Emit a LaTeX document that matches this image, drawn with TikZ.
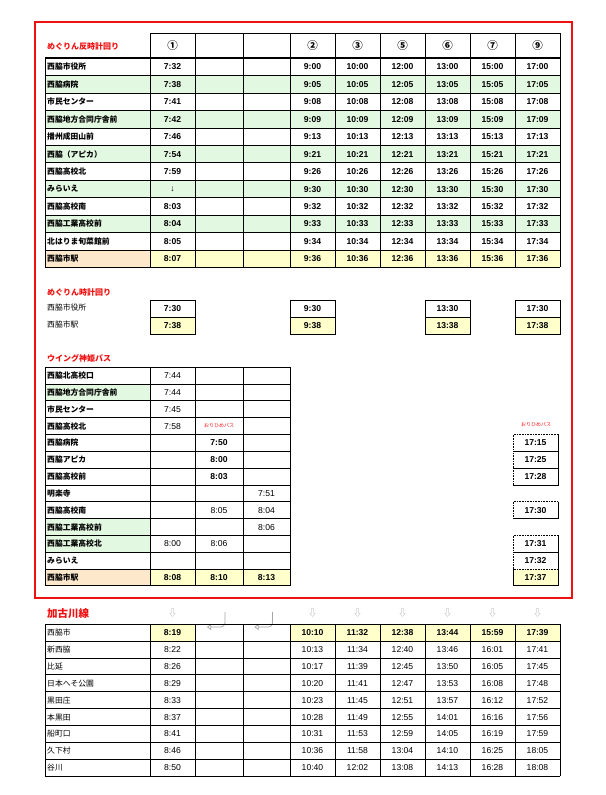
\documentclass[tikz,border=0pt]{standalone}
\usepackage{fontspec}
\usetikzlibrary{arrows.meta}
\setmainfont{Noto Sans CJK JP}
\newfontfamily\tm{Liberation Sans}
\begin{document}
\definecolor{gr}{HTML}{E3F8E1}
\definecolor{pe}{HTML}{FDE8CC}
\definecolor{ye}{HTML}{FFFFCC}
\definecolor{rd}{HTML}{F01010}
\begin{tikzpicture}[x=1pt,y=-1pt,
  lab/.style={anchor=west,inner sep=0pt,font=\fontsize{7.8}{8}\selectfont\bfseries},
  labn/.style={anchor=west,inner sep=0pt,font=\fontsize{7.8}{8}\selectfont},
  tb/.style={inner sep=0pt,font=\tm\fontsize{8.6}{9}\selectfont\bfseries},
  tn/.style={inner sep=0pt,font=\tm\fontsize{8.6}{9}\selectfont},
  ttl/.style={anchor=west,inner sep=0pt,text=rd,font=\fontsize{8}{9}\selectfont\bfseries},
  ori/.style={inner sep=0pt,text=rd,font=\fontsize{5}{6}\selectfont},
  grid/.style={line width=0.6pt}]
\useasboundingbox (0,0) rectangle (605,795);
\fill[white] (0,0) rectangle (605,795);
\draw[rd,line width=2.5pt] (35,22) rectangle (572,598);
% ===== top table
\node[ttl] (t1) at (47,46) {めぐりん反時計回り};
\foreach [count=\i] \lab/\a/\b/\c/\d/\e/\f/\g in {
西脇市役所/7:32/9:00/10:00/12:00/13:00/15:00/17:00,
西脇病院/7:38/9:05/10:05/12:05/13:05/15:05/17:05,
市民センター/7:41/9:08/10:08/12:08/13:08/15:08/17:08,
西脇地方合同庁舎前/7:42/9:09/10:09/12:09/13:09/15:09/17:09,
播州成田山前/7:46/9:13/10:13/12:13/13:13/15:13/17:13,
西脇（アピカ）/7:54/9:21/10:21/12:21/13:21/15:21/17:21,
西脇高校北/7:59/9:26/10:26/12:26/13:26/15:26/17:26,
みらいえ/↓/9:30/10:30/12:30/13:30/15:30/17:30,
西脇高校南/8:03/9:32/10:32/12:32/13:32/15:32/17:32,
西脇工業高校前/8:04/9:33/10:33/12:33/13:33/15:33/17:33,
北はりま旬菜館前/8:05/9:34/10:34/12:34/13:34/15:34/17:34,
西脇市駅/8:07/9:36/10:36/12:36/13:36/15:36/17:36}{
  \pgfmathsetmacro\yt{58+17.45*(\i-1)}
  \pgfmathsetmacro\yb{\yt+17.45}
  \pgfmathsetmacro\ym{\yt+8.9}
  \ifnum\i=12
    \fill[pe] (45,\yt) rectangle (150,\yb);
    \fill[ye] (150,\yt) rectangle (560,\yb);
  \else\ifodd\i\else
    \fill[gr] (45,\yt) rectangle (560,\yb);
  \fi\fi
  \node[lab] (tl\i) at (47,\ym) {\lab};
  \node[tb] (ta\i) at (172.5,\ym) {\a};
  \node[tb] (tb\i) at (312.5,\ym) {\b};
  \node[tb] (tc\i) at (357.5,\ym) {\c};
  \node[tb] (td\i) at (402.5,\ym) {\d};
  \node[tb] (te\i) at (447.5,\ym) {\e};
  \node[tb] (tf\i) at (492.5,\ym) {\f};
  \node[tb] (tg\i) at (537.5,\ym) {\g};
}
\foreach \i in {1,...,12} \draw[grid] (45,{58+17.45*\i}) -- (560,{58+17.45*\i});
\draw[grid] (150,33) -- (560,33);
\foreach \x in {150,195,243,290,335,380,425,470,515,560} \draw[grid] (\x,33) -- (\x,267.4);
\draw[grid] (45,58) -- (45,267.4);
\draw[line width=1.6pt] (45,58) -- (560,58);
\foreach [count=\k] \h/\x in {①/172.5,②/312.5,③/357.5,⑤/402.5,⑥/447.5,⑦/492.5,⑨/537.5}
  \node[font=\fontsize{10.5}{11}\selectfont\bfseries,inner sep=0pt] (th\k) at (\x,46) {\h};
% ===== clockwise
\node[ttl] (c0) at (47,292) {めぐりん時計回り};
\node[labn] (cl1) at (47,308) {西脇市役所};
\node[labn] (cl2) at (47,325) {西脇市駅};
\foreach [count=\k] \x/\p/\q in {150/7:30/7:38,290/9:30/9:38,425/13:30/13:38,515/17:30/17:38}{
  \fill[ye] (\x,317) rectangle (\x+45,334);
  \draw[grid] (\x,300) rectangle (\x+45,334) (\x,317) -- (\x+45,317);
  \node[tb] (cp\k) at (\x+22.5,308.5) {\p};
  \node[tb] (cq\k) at (\x+22.5,325.5) {\q};
}
% ===== wing
\node[ttl] (w0) at (47,358) {ウイング神姫バス};
\foreach [count=\i] \lab/\f/\a/\b/\c in {
西脇北高校口/0/7:44//,
西脇地方合同庁舎前/1/7:44//,
市民センター/0/7:45//,
西脇高校北/0/7:58//,
西脇病院/0//\textbf{7:50}/,
西脇アピカ/0//\textbf{8:00}/,
西脇高校前/0//\textbf{8:03}/,
明楽寺/0///7:51,
西脇高校南/0//8:05/8:04,
西脇工業高校前/1///8:06,
西脇工業高校北/1/8:00/8:06/,
みらいえ/0///,
西脇市駅/2/\textbf{8:08}/\textbf{8:10}/\textbf{8:13}}{
  \pgfmathsetmacro\yt{367+16.83*(\i-1)}
  \pgfmathsetmacro\yb{\yt+16.83}
  \pgfmathsetmacro\ym{\yt+8.6}
  \ifnum\f=1 \fill[gr] (45,\yt) rectangle (150,\yb); \fi
  \ifnum\f=2 \fill[pe] (45,\yt) rectangle (150,\yb); \fill[ye] (150,\yt) rectangle (290,\yb); \fi
  \node[lab] (wl\i) at (47,\ym) {\lab};
  \node[tn] (wa\i) at (172.5,\ym) {\a};
  \node[tn] (wb\i) at (219,\ym) {\b};
  \node[tn] (wc\i) at (266.5,\ym) {\c};
}
\foreach \i in {0,...,13} \draw[grid] (45,{367+16.83*\i}) -- (290,{367+16.83*\i});
\foreach \x in {45,150,195,243,290} \draw[grid] (\x,367) -- (\x,585.8);
\node[ori] (wo1) at (219,426) {おりひめバス};
\node[ori] (wo2) at (536,425) {おりひめバス};
\foreach [count=\k] \r/\t in {5/17:15,6/17:25,7/17:28,9/17:30,11/17:31,12/17:32,13/17:37}{
  \pgfmathsetmacro\yt{367+16.83*(\r-1)}
  \pgfmathsetmacro\yb{\yt+16.83}
  \ifnum\r=13 \fill[ye] (513,\yt) rectangle (558,\yb); \fi
  \draw[grid,densely dotted] (513,\yb) -- (513,\yt) -- (558,\yt);
  \draw[grid] (558,\yt) -- (558,\yb) -- (513,\yb);
  \node[tb] (wr\k) at (535.5,\yt+8.6) {\t};
}
\draw[grid] (513,585.8) -- (513,568.97);
% ===== kakogawa
\node[anchor=west,inner sep=0pt,text=rd,font=\fontsize{10.5}{11}\selectfont\bfseries] (k0) at (47,614) {加古川線};
\foreach [count=\k] \x in {172.5,312.5,357.5,402.5,447.5,492.5,537.5}
  \node[text=gray!70,inner sep=0pt,font=\fontsize{9}{9}\selectfont] (ka\k) at (\x,613) {⇩};
\foreach [count=\k] \x in {219,266.5}{
  \coordinate (hs\k) at (\x+6,612);
  \coordinate (he\k) at (\x-12,627);
  \draw[gray!70,line width=0.7pt,-{Triangle[open,length=4pt,width=6pt]}] (hs\k) -- (\x+6,623) to[out=-90,in=0] (\x+2,627) -- (he\k);
}
\foreach [count=\i] \lab/\a/\b/\c/\d/\e/\f/\g in {
西脇市/8:19/10:10/11:32/12:38/13:44/15:59/17:39,
新西脇/8:22/10:13/11:34/12:40/13:46/16:01/17:41,
比延/8:26/10:17/11:39/12:45/13:50/16:05/17:45,
日本へそ公園/8:29/10:20/11:41/12:47/13:53/16:08/17:48,
黒田庄/8:33/10:23/11:45/12:51/13:57/16:12/17:52,
本黒田/8:37/10:28/11:49/12:55/14:01/16:16/17:56,
船町口/8:41/10:31/11:53/12:59/14:05/16:19/17:59,
久下村/8:46/10:36/11:58/13:04/14:10/16:25/18:05,
谷川/8:50/10:40/12:02/13:08/14:13/16:28/18:08}{
  \pgfmathsetmacro\yt{624+16.9*(\i-1)}
  \pgfmathsetmacro\yb{\yt+16.9}
  \pgfmathsetmacro\ym{\yt+8.6}
  \ifnum\i=1
    \fill[ye] (150,\yt) rectangle (195,\yb);
    \fill[ye] (290,\yt) rectangle (560,\yb);
    \tikzset{kt/.style={tb}}
  \else
    \tikzset{kt/.style={tn}}
  \fi
  \node[labn] (kl\i) at (47,\ym) {\lab};
  \node[kt] (kb\i) at (172.5,\ym) {\a};
  \node[kt] (kc\i) at (312.5,\ym) {\b};
  \node[kt] (kd\i) at (357.5,\ym) {\c};
  \node[kt] (ke\i) at (402.5,\ym) {\d};
  \node[kt] (kf\i) at (447.5,\ym) {\e};
  \node[kt] (kg\i) at (492.5,\ym) {\f};
  \node[kt] (kh\i) at (537.5,\ym) {\g};
}
\foreach \i in {0,...,9} \draw[grid] (45,{624+16.9*\i}) -- (560,{624+16.9*\i});
\foreach \x in {45,150,195,243,290,335,380,425,470,515,560} \draw[grid] (\x,624) -- (\x,776.1);
\end{tikzpicture}
\end{document}
